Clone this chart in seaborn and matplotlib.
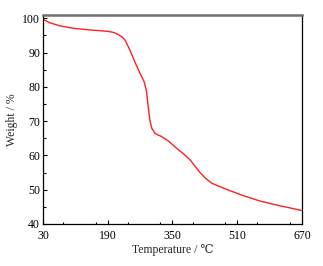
import matplotlib
matplotlib.use("Agg")
import matplotlib.pyplot as plt
from matplotlib.ticker import MultipleLocator
import pandas as pd
import seaborn as sns

sns.set_style("white")
plt.rcParams['font.family'] = ['Liberation Serif', 'DejaVu Serif']

# TGA curve
temperature = [30, 47, 72, 105, 146, 171, 190, 204, 216, 226, 233, 245, 257, 270, 280,
               286, 290, 294, 299, 307, 323, 340, 360, 381, 395, 406, 418, 432, 447, 467, 488,
               524, 566, 608, 640, 670]
weight = [99.7, 98.7, 97.8, 97.1, 96.6, 96.4, 96.2, 95.9, 95.3, 94.5, 93.6, 90.7, 87.3, 83.9, 81.5,
          78.6, 74.2, 70.3, 67.9, 66.4, 65.5, 64.2, 62.1, 60.1, 58.5, 56.8, 55.0, 53.3, 51.9, 50.9, 49.9,
          48.3, 46.7, 45.5, 44.7, 43.9]

xticks = [30, 190, 350, 510, 670]
yticks = [40, 50, 60, 70, 80, 90, 100]

df = pd.DataFrame({"Temperature": temperature, "Weight": weight})

fig = plt.figure(figsize=(3.23, 2.66), dpi=100)
ax = fig.add_axes([0.133, 0.158, 0.802, 0.786])

sns.lineplot(data=df, x="Temperature", y="Weight", color="#ff2020", linewidth=1.0, ax=ax)

ax.set_xlim(30, 670)
ax.set_ylim(40, 101)
ax.set_xticks(xticks)
ax.set_yticks(yticks)
ax.xaxis.set_minor_locator(MultipleLocator(80))
ax.yaxis.set_minor_locator(MultipleLocator(5))
ax.tick_params(which="both", direction="in", bottom=True, left=True, top=False, right=False,
               labelsize=8.5, length=3, width=0.8, colors="black")
ax.tick_params(which="minor", length=1.8)
ax.tick_params(axis="x", pad=4)
ax.tick_params(axis="y", pad=2)

for side in ["left", "bottom", "right"]:
    ax.spines[side].set_color("black")
    ax.spines[side].set_linewidth(0.9)
ax.spines["top"].set_color("#707070")
ax.spines["top"].set_linewidth(1.8)

ax.set_xlabel("Temperature / ℃", fontsize=8.5, labelpad=2)
ax.set_ylabel("Weight / %", fontsize=8.5, labelpad=3)

fig.savefig("out.png", dpi=100)
